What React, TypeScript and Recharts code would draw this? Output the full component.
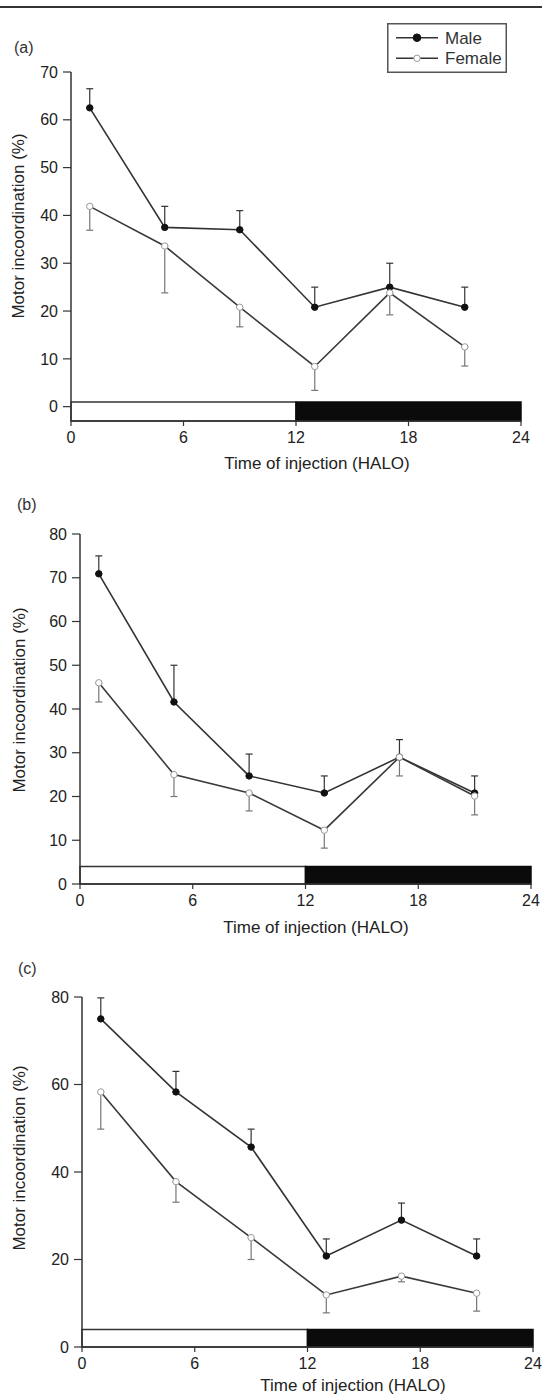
import React from 'react';
import { ComposedChart, Line, XAxis, YAxis, ErrorBar, ReferenceArea, Legend, Label } from 'recharts';

const FONT = '"Liberation Sans", Arial, sans-serif';

const hours = [1, 5, 9, 13, 17, 21];
const hourTicks = [0, 6, 12, 18, 24];
const phaseFrom = [0, 12];
const phaseTo = [12, 24];
const phaseNames = ['light', 'dark'];
const seriesOrder = ['Male', 'Female'];

// (a)
const maleA = [62.5, 37.5, 37, 20.8, 25, 20.8];
const maleSemA = [4, 4.4, 4, 4.2, 5, 4.2];
const femaleA = [41.9, 33.6, 20.8, 8.4, 23.8, 12.5];
const femaleSemA = [5, 9.8, 4.1, 5, 4.6, 4];
const yTicksA = [0, 10, 20, 30, 40, 50, 60, 70];

// (b)
const maleB = [70.9, 41.6, 24.7, 20.8, 29, 20.8];
const maleSemB = [4.1, 8.4, 5, 3.9, 4, 3.9];
const femaleB = [46, 25, 20.8, 12.3, 29, 20.1];
const femaleSemB = [4.4, 5, 4.1, 4.1, 4.3, 4.3];
const yTicksB = [0, 10, 20, 30, 40, 50, 60, 70, 80];

// (c)
const maleC = [75, 58.3, 45.7, 20.8, 29, 20.8];
const maleSemC = [4.8, 4.7, 4.1, 3.9, 3.9, 3.9];
const femaleC = [58.3, 37.8, 25, 11.9, 16.2, 12.3];
const femaleSemC = [8.5, 4.7, 5, 4.1, 1.3, 4.1];
const yTicksC = [0, 20, 40, 60, 80];

const buildRows = (male: number[], maleSem: number[], female: number[], femaleSem: number[]) =>
  hours.map((h, i) => ({
    hour: h,
    male: male[i],
    maleErr: [0, maleSem[i]],
    female: female[i],
    femaleErr: [femaleSem[i], 0],
  }));

const panels = [
  {
    tag: '(a)', top: 0, height: 480, plotTop: 72, right: 21, yWidth: 71, xHeight: 59,
    domain: [-3, 70], yTicks: yTicksA, band: [-3, 1],
    rows: buildRows(maleA, maleSemA, femaleA, femaleSemA),
    tagPos: [14, 38], yTitle: [23.5, 226], xTitle: [317, 469], legend: true,
  },
  {
    tag: '(b)', top: 480, height: 460, plotTop: 54, right: 11, yWidth: 80, xHeight: 56,
    domain: [0, 80], yTicks: yTicksB, band: [0, 4],
    rows: buildRows(maleB, maleSemB, femaleB, femaleSemB),
    tagPos: [17, 15], yTitle: [24.5, 220], xTitle: [316, 453], legend: false,
  },
  {
    tag: '(c)', top: 940, height: 454, plotTop: 57, right: 9, yWidth: 82, xHeight: 47,
    domain: [0, 80], yTicks: yTicksC, band: [0, 4],
    rows: buildRows(maleC, maleSemC, femaleC, femaleSemC),
    tagPos: [18, 19], yTitle: [24.5, 218], xTitle: [353, 451], legend: false,
  },
];

const renderLegend = (props: any) => {
  const items = [...(props.payload || [])].sort(
    (a: any, b: any) => seriesOrder.indexOf(a.value) - seriesOrder.indexOf(b.value)
  );
  return (
    <svg width={120} height={50} style={{ display: 'block' }}>
      <rect x={0.75} y={0.75} width={118.5} height={48.5} fill="#fff" stroke="#555" strokeWidth={1.5} />
      {items.map((it: any, i: number) => {
        const y = 14.7 + i * 20.6;
        const filled = it.dataKey === 'male';
        return (
          <g key={it.value}>
            <line x1={9} x2={51} y1={y} y2={y} stroke="#333" strokeWidth={1.5} />
            <circle cx={30} cy={y} r={filled ? 3.8 : 3.2} fill={filled ? '#111' : '#fff'} stroke={filled ? '#111' : '#999'} strokeWidth={1} />
            <text x={58} y={y + 6} fontSize={17} fontFamily={FONT} fill="#333">{it.value}</text>
          </g>
        );
      })}
    </svg>
  );
};

function Panel({ p }: { p: any }) {
  return (
    <div style={{ position: 'absolute', left: 0, top: p.top, width: 542, height: p.height }}>
      <div style={{ position: 'absolute', left: p.tagPos[0], top: p.tagPos[1], fontSize: 16, lineHeight: '20px', fontFamily: FONT, color: '#333' }}>
        {p.tag}
      </div>
      <ComposedChart width={542} height={p.height} data={p.rows} margin={{ top: p.plotTop, right: p.right, bottom: 0, left: 0 }}>
        {phaseFrom.map((from, i) => (
          <ReferenceArea
            key={phaseNames[i]}
            x1={from}
            x2={phaseTo[i]}
            y1={p.band[0]}
            y2={p.band[1]}
            fill={i === 0 ? '#fff' : '#0b0b0b'}
            fillOpacity={1}
            stroke={i === 0 ? '#333' : '#0b0b0b'}
            strokeWidth={1.5}
            ifOverflow="visible"
          />
        ))}
        <XAxis
          dataKey="hour"
          type="number"
          domain={[0, 24]}
          ticks={hourTicks}
          interval={0}
          height={p.xHeight}
          tickSize={5}
          tickMargin={6}
          axisLine={{ stroke: '#333', strokeWidth: 1.5 }}
          tickLine={{ stroke: '#333', strokeWidth: 1.2 }}
          tick={{ fill: '#222', fontSize: 16, fontFamily: FONT }}
        >
          <Label
            content={() => (
              <text x={p.xTitle[0]} y={p.xTitle[1]} textAnchor="middle" fontSize={17} fontFamily={FONT} fill="#222">
                Time of injection (HALO)
              </text>
            )}
          />
        </XAxis>
        <YAxis
          type="number"
          domain={p.domain}
          ticks={p.yTicks}
          interval={0}
          allowDataOverflow
          width={p.yWidth}
          tickSize={8}
          tickMargin={5}
          axisLine={{ stroke: '#333', strokeWidth: 1.5 }}
          tickLine={{ stroke: '#333', strokeWidth: 1.2 }}
          tick={{ fill: '#222', fontSize: 16, fontFamily: FONT }}
        >
          <Label
            content={() => (
              <text
                transform={`translate(${p.yTitle[0]},${p.yTitle[1]}) rotate(-90)`}
                textAnchor="middle"
                fontSize={17}
                fontFamily={FONT}
                fill="#222"
              >
                Motor incoordination (%)
              </text>
            )}
          />
        </YAxis>
        <Line
          dataKey="male"
          name="Male"
          stroke="#333"
          strokeWidth={1.6}
          dot={{ r: 3.2, fill: '#111', stroke: '#111', strokeWidth: 1 }}
          activeDot={false}
          isAnimationActive={false}
        >
          <ErrorBar dataKey="maleErr" direction="y" width={3.5} stroke="#333" strokeWidth={1.2} isAnimationActive={false} />
        </Line>
        <Line
          dataKey="female"
          name="Female"
          stroke="#3a3a3a"
          strokeWidth={1.6}
          dot={{ r: 3.2, fill: '#fff', stroke: '#999', strokeWidth: 1 }}
          activeDot={false}
          isAnimationActive={false}
        >
          <ErrorBar dataKey="femaleErr" direction="y" width={3.5} stroke="#777" strokeWidth={1.2} isAnimationActive={false} />
        </Line>
        {p.legend && (
          <Legend
            layout="horizontal"
            verticalAlign="middle"
            align="center"
            content={renderLegend}
            wrapperStyle={{ left: 387, top: 23, width: 120, height: 50 }}
          />
        )}
      </ComposedChart>
    </div>
  );
}

export default function App() {
  return (
    <div style={{ position: 'absolute', left: 0, top: 0, width: 542, height: 1394, background: '#fff', fontFamily: FONT }}>
      <div style={{ position: 'absolute', left: 0, top: 6, width: 542, height: 2, background: '#333' }} />
      {panels.map((p) => (
        <Panel key={p.tag} p={p} />
      ))}
    </div>
  );
}
